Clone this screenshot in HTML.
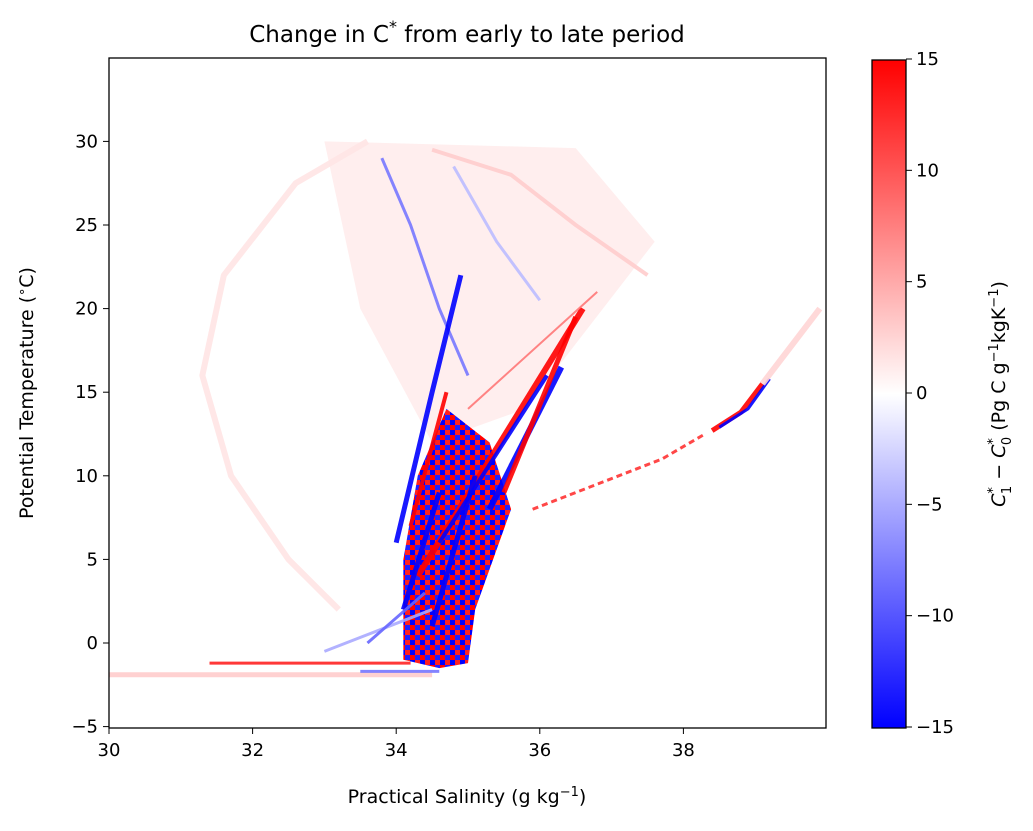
<!DOCTYPE html>
<html><head><meta charset="utf-8"><style>
body{margin:0;background:#fff;font-family:"Liberation Sans","DejaVu Sans",sans-serif}
svg text{font-family:"DejaVu Sans","Liberation Sans",sans-serif;fill:#000}
</style></head><body>
<svg id="c" width="1033" height="826">
<defs>
<linearGradient id="cb" x1="0" y1="1" x2="0" y2="0">
<stop offset="0" stop-color="#0000ff"/><stop offset="0.5" stop-color="#ffffff"/><stop offset="1" stop-color="#ff0000"/></linearGradient>
<clipPath id="clip"><rect x="109" y="58" width="717" height="670"/></clipPath>
<pattern id="chk" width="10" height="10" patternUnits="userSpaceOnUse">
<rect width="10" height="10" fill="#ff0000"/><rect width="5" height="5" fill="#0000ff"/><rect x="5" y="5" width="5" height="5" fill="#2020ff"/><rect x="5" y="0" width="5" height="5" fill="#ff2020"/></pattern>
</defs>
<text x="467" y="42" font-size="23" text-anchor="middle">Change in C<tspan dy="-10" font-size="16">*</tspan><tspan dy="10"> from early to late period</tspan></text>
<g id="marks" clip-path="url(#clip)"></g>
<rect x="109" y="58" width="717" height="670" fill="none" stroke="#000" stroke-width="1.3"/>
<g id="axes"></g>
<text x="467" y="803" font-size="19" text-anchor="middle">Practical Salinity (g kg<tspan dy="-7" font-size="13">−1</tspan><tspan dy="7">)</tspan></text>
<text transform="translate(33,393) rotate(-90)" font-size="19" text-anchor="middle">Potential Temperature (<tspan dy="-7" font-size="13">∘</tspan><tspan dy="7">C)</tspan></text>
<rect x="872" y="60" width="34" height="668" fill="url(#cb)" stroke="#000" stroke-width="1.3"/>
<g id="cbticks"></g>
<text transform="translate(1005,394) rotate(-90)" font-size="19" text-anchor="middle"><tspan font-style="italic">C</tspan><tspan font-size="13" dy="-8">*</tspan><tspan font-size="13" dx="-7" dy="14">1</tspan><tspan dy="-6"> − </tspan><tspan font-style="italic">C</tspan><tspan font-size="13" dy="-8">*</tspan><tspan font-size="13" dx="-7" dy="14">0</tspan><tspan dy="-6">  (Pg C g</tspan><tspan font-size="13" dy="-7">−1</tspan><tspan dy="7">kgK</tspan><tspan font-size="13" dy="-7">−1</tspan><tspan dy="7">)</tspan></text>
</svg>
<script>
const xTicks=[30,32,34,36,38];
const yTicks=[-5,0,5,10,15,20,25,30];
const cTicks=[-15,-10,-5,0,5,10,15];
// features: salinity/temperature polylines, values, widths
const featS=[
[33.6,32.6,31.6,31.3,31.7,32.5,33.2],
[30.0,34.5],
[31.4,34.2],
[33.5,34.6],
[33.8,34.2,34.6,35.0],
[33.0,33.6,34.5],
[34.3,36.6],
[34.6,36.1],
[35.3,36.3],
[35.5,36.5],
[34.0,34.5,34.9],
[34.2,34.7],
[35.0,36.8],
[35.9,36.8,37.7,38.3],
[38.4,38.8,39.1],
[38.5,38.9,39.2],
[39.1,39.9],
[34.1,34.6],
[34.5,35.1],
[33.6,34.4],
[34.5,35.6,36.5,37.5],
[34.8,35.4,36.0]
];
const featT=[
[30.0,27.5,22.0,16.0,10.0,5.0,2.0],
[-1.9,-1.9],
[-1.2,-1.2],
[-1.7,-1.7],
[29.0,25.0,20.0,16.0],
[-0.5,0.5,2.0],
[4.0,20.0],
[6.0,16.0],
[8.0,16.5],
[9.0,19.5],
[6.0,15.0,22.0],
[7.0,15.0],
[14.0,21.0],
[8.0,9.5,11.0,12.5],
[12.7,13.8,15.5],
[12.9,14.0,15.8],
[15.5,20.0],
[2.0,9.0],
[1.0,10.0],
[0.0,3.0],
[29.5,28.0,25.0,22.0],
[28.5,24.0,20.5]
];
const featV=[1.6,3,13,-8,-8,-5,15,-15,-15,15,-15,15,8,12,15,-15,2.5,-15,-15,-9,3,-4];
const featW=[6,5,3,3,3,3,6,4,6,5,5,4,2,3,5,3,6,5,5,3,4,3];
// core region (mixed red/blue)
const coreS=[34.1,34.1,34.3,34.7,35.3,35.6,35.1,35.0,34.6];
const coreT=[-1,5,10,14,12,8,2,-1.2,-1.5];
// upper pale region
const upS=[33.0,36.5,37.6,35.8,34.5,33.5];
const upT=[30.0,29.6,24.0,14.0,12.0,20.0];
const X=s=>109+(s-30)*71.8, Y=t=>643-t*16.72, C=v=>393-v*(668/30);
function col(v){const a=Math.max(-1,Math.min(1,v/15));
 if(a>=0){const g=Math.round(255*(1-a));return `rgb(255,${g},${g})`;}
 const g=Math.round(255*(1+a));return `rgb(${g},${g},255)`;}
const NS='http://www.w3.org/2000/svg';
const M=document.getElementById('marks'),A=document.getElementById('axes'),CB=document.getElementById('cbticks');
function mk(t,p,at){const e=document.createElementNS(NS,t);for(const k in at)e.setAttribute(k,at[k]);p.appendChild(e);return e;}
let up=mk('polygon',M,{points:upS.map((s,i)=>X(s)+','+Y(upT[i])).join(' '),fill:col(1.0)});


let core=mk('polygon',M,{points:coreS.map((s,i)=>X(s)+','+Y(coreT[i])).join(' '),fill:'url(#chk)'});


featS.forEach((ss,i)=>{
 const p=mk('polyline',M,{points:ss.map((s,j)=>X(s)+','+Y(featT[i][j])).join(' '),fill:'none',stroke:col(featV[i]),'stroke-width':featW[i],'stroke-linejoin':'round',opacity:0.9});
 if(i===13)p.setAttribute('stroke-dasharray','6 4');
 
 
});
xTicks.forEach(v=>{mk('line',A,{x1:X(v),x2:X(v),y1:728,y2:734,stroke:'#000'});
 const t=mk('text',A,{x:X(v),y:756,'font-size':18,'text-anchor':'middle'});t.textContent=v;
 
 });
yTicks.forEach(v=>{mk('line',A,{x1:103,x2:109,y1:Y(v),y2:Y(v),stroke:'#000'});
 const t=mk('text',A,{x:98,y:Y(v)+6,'font-size':18,'text-anchor':'end'});t.textContent=v<0?'−'+(-v):v;
 
 });
cTicks.forEach(v=>{mk('line',CB,{x1:906,x2:912,y1:C(v),y2:C(v),stroke:'#000'});
 const t=mk('text',CB,{x:916,y:C(v)+6,'font-size':18});t.textContent=v<0?'−'+(-v):v;
 
 });
</script>
</body></html>
